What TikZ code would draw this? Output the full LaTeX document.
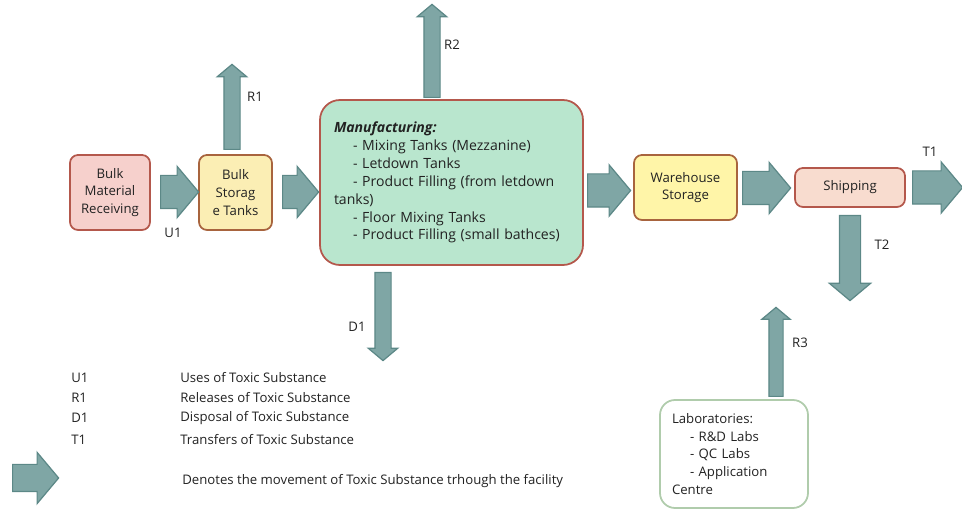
\documentclass[tikz,border=0pt]{standalone}
\usepackage{fontspec}
\setmainfont{Open Sans}
\usetikzlibrary{shapes.arrows}
\definecolor{arrowfill}{RGB}{127,166,165}
\definecolor{arrowline}{RGB}{92,136,135}
\definecolor{recfill}{RGB}{246,208,204}
\definecolor{recline}{RGB}{180,88,76}
\definecolor{storfill}{RGB}{251,238,180}
\definecolor{storline}{RGB}{168,100,62}
\definecolor{mfgfill}{RGB}{185,230,206}
\definecolor{warefill}{RGB}{255,245,168}
\definecolor{shipfill}{RGB}{248,220,207}
\definecolor{labline}{RGB}{176,204,172}
\definecolor{txt}{RGB}{34,34,34}

\begin{document}
\begin{tikzpicture}[
        font=\fontsize{7.5}{10}\selectfont, text=txt,
        stagebox/.style={draw, rounded corners=0.16cm, line width=1pt, align=center, inner sep=0pt},
        flowarrow/.style={single arrow, draw=arrowline, fill=arrowfill, line width=0.7pt, anchor=tail,
            single arrow head indent=0pt, single arrow tip angle=100},
        rightarrow/.style={flowarrow, inner xsep=0pt, inner ysep=0.32cm, single arrow head extend=0.18cm},
        uparrow/.style={flowarrow, shape border rotate=90, inner sep=0.15cm, single arrow head extend=0.13cm},
        downarrow/.style={flowarrow, shape border rotate=270, inner sep=0.15cm, single arrow head extend=0.13cm}
    ]
        \useasboundingbox (0,0) rectangle (19.24,-10.2);

        % process stages
        \node[stagebox, fill=recfill, draw=recline, minimum width=1.6cm, minimum height=1.5cm] (rec) at (2.2,-3.85) {Bulk\\Material\\Receiving};
        \node[stagebox, fill=storfill, draw=storline, minimum width=1.46cm, minimum height=1.5cm] (stor) at (4.71,-3.85) {Bulk\\Storag\\e Tanks};
        \node[stagebox, fill=mfgfill, draw=recline, rounded corners=0.4cm, minimum height=3.3cm,
            font=\fontsize{8}{10.2}\selectfont, align=left, text width=4.7cm, inner xsep=0.28cm] (mfg) at (9.03,-3.65) {
            \textbf{\textit{Manufacturing:}}\\
            \hspace*{0.38cm}- Mixing Tanks (Mezzanine)\\
            \hspace*{0.38cm}- Letdown Tanks\\
            \hspace*{0.38cm}- Product Filling (from letdown\\
            tanks)\\
            \hspace*{0.38cm}- Floor Mixing Tanks\\
            \hspace*{0.38cm}- Product Filling (small bathces)
        };
        \node[stagebox, fill=warefill, draw=storline, minimum width=2.06cm, minimum height=1.3cm] (ware) at (13.71,-3.75) {Warehouse\\Storage};
        \node[stagebox, fill=shipfill, draw=recline, minimum width=2.2cm, minimum height=0.78cm] (ship) at (17.0,-3.75) {Shipping};
        \node[stagebox, fill=white, draw=labline, rounded corners=0.3cm, minimum height=2.16cm,
            align=left, text width=2.48cm, inner xsep=0.24cm] (lab) at (14.68,-9.08) {
            Laboratories:\\
            \hspace*{0.36cm}- R\&D Labs\\
            \hspace*{0.36cm}- QC Labs\\
            \hspace*{0.36cm}- Application\\
            Centre
        };

        % movement arrows (placed by their tails)
        \node[rightarrow, minimum height=0.76cm] (u1) at (3.2,-3.84) {};
        \node[rightarrow, minimum height=0.72cm] (mv2) at (5.64,-3.84) {};
        \node[rightarrow, minimum height=0.86cm] (mv3) at (11.74,-3.81) {};
        \node[rightarrow, minimum height=0.96cm] (mv4) at (14.84,-3.76) {};
        \node[rightarrow, minimum height=1.0cm] (t1) at (18.24,-3.75) {};
        \node[uparrow, minimum height=1.7cm] (r1) at (4.64,-3.0) {};
        \node[uparrow, minimum height=1.86cm] (r2) at (8.64,-1.96) {};
        \node[downarrow, minimum height=1.76cm] (d1) at (7.66,-5.44) {};
        \node[downarrow, minimum height=1.7cm, inner sep=0.2cm, single arrow head extend=0.2cm] (t2) at (17.0,-4.3) {};
        \node[uparrow, minimum height=1.78cm, inner sep=0.13cm, single arrow head extend=0.14cm] (r3) at (15.52,-7.94) {};

        % arrow labels
        \node (u1lbl) at (3.46,-4.66) {U1};
        \node (r1lbl) at (5.1,-1.94) {R1};
        \node (r2lbl) at (9.04,-0.9) {R2};
        \node (d1lbl) at (7.14,-6.54) {D1};
        \node (t1lbl) at (18.6,-3.04) {T1};
        \node (t2lbl) at (17.64,-4.9) {T2};
        \node (r3lbl) at (16.0,-6.86) {R3};

        % legend
        \node[anchor=west, inner sep=0pt] (keyu) at (1.42,-7.56) {U1};
        \node[anchor=west, inner sep=0pt] (keyr) at (1.42,-7.96) {R1};
        \node[anchor=west, inner sep=0pt] (keyd) at (1.42,-8.36) {D1};
        \node[anchor=west, inner sep=0pt] (keyt) at (1.42,-8.8) {T1};
        \node[anchor=west, inner sep=0pt] (descu) at (3.6,-7.56) {Uses of Toxic Substance};
        \node[anchor=west, inner sep=0pt] (descr) at (3.6,-7.96) {Releases of Toxic Substance};
        \node[anchor=west, inner sep=0pt] (descd) at (3.6,-8.36) {Disposal of Toxic Substance};
        \node[anchor=west, inner sep=0pt] (desct) at (3.6,-8.8) {Transfers of Toxic Substance};
        \node[rightarrow, minimum height=0.92cm, inner ysep=0.26cm, single arrow head extend=0.24cm] (keyarrow) at (0.24,-9.56) {};
        \node[anchor=west, inner sep=0pt] (desckey) at (3.64,-9.62) {Denotes the movement of Toxic Substance trhough the facility};
    \end{tikzpicture}
\end{document}
